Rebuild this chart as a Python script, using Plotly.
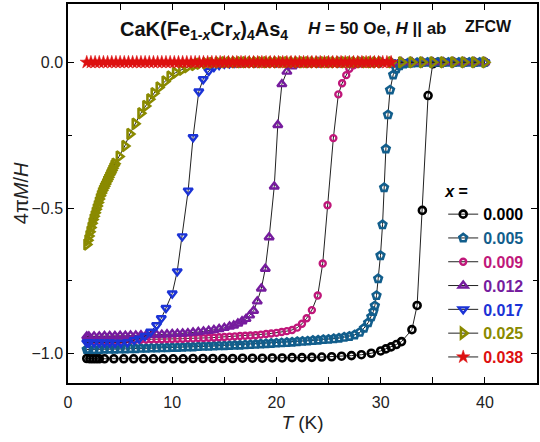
import plotly.graph_objects as go

# ---------------- data ----------------
x_labels = ["0.000", "0.005", "0.009", "0.012", "0.017", "0.025", "0.038"]

T_000 = [1.8, 2.1, 2.4, 2.7, 3.0, 3.5,
         4.4, 5.35, 6.3, 7.25, 8.2, 9.15, 10.1, 11.05,
         12.0, 12.95, 13.9, 14.85, 15.8,
         16.75, 17.7, 18.65, 19.6, 20.55, 21.5, 22.45,
         23.4, 24.35, 25.3, 26.25, 27.2, 28.15, 29.1,
         30.0, 30.5, 31.0, 31.5, 32.0,
         33.0, 33.5, 34.0, 34.55, 35.0, 35.5,
         36.0, 37.0, 38.0, 39.0, 40.0]
M_000 = [-1.016, -1.017, -1.017, -1.017, -1.017, -1.017,
         -1.017, -1.017, -1.017, -1.017, -1.017, -1.017, -1.017, -1.017,
         -1.016, -1.016, -1.016, -1.016, -1.016,
         -1.015, -1.015, -1.015, -1.014, -1.014, -1.013, -1.013,
         -1.012, -1.011, -1.010, -1.008, -1.006, -1.003, -0.998,
         -0.990, -0.983, -0.976, -0.968, -0.958,
         -0.917, -0.834, -0.508, -0.114, -0.005, 0.0,
         0.0, 0.0, 0.0, 0.0, 0.0]

T_005 = [1.8, 2.0, 2.5, 3.0, 3.5, 4.0, 4.5, 5.0, 5.5, 6.0,
         6.5, 7.0, 7.5, 8.0, 8.5, 9.0, 9.5, 10.0, 10.5, 11.0,
         11.5, 12.0, 12.5, 13.0, 13.5, 14.0, 14.5, 15.0, 15.5, 16.0,
         16.5, 17.0, 17.5, 18.0, 18.5, 19.0, 19.5, 20.0, 20.5, 21.0,
         21.5, 22.0, 22.5, 23.0, 23.5, 24.0, 24.5, 25.0, 25.5, 26.0,
         26.5, 27.0, 27.5, 28.0, 28.4, 28.8, 29.1, 29.3, 29.44, 29.6,
         29.76, 29.98, 30.18, 30.33, 30.5, 30.7, 30.9, 31.2, 31.5, 31.8,
         32.2, 32.6, 33.0, 33.5, 34.0, 34.5, 35.0, 35.5, 36.0, 36.5,
         37.0, 37.5, 38.0, 38.5, 39.0, 39.5, 40.0]
M_005 = [-0.985, -0.985, -0.985, -0.985, -0.984, -0.984, -0.984, -0.983, -0.983, -0.982,
         -0.982, -0.981, -0.981, -0.980, -0.980, -0.979, -0.979, -0.978, -0.978, -0.977,
         -0.976, -0.976, -0.975, -0.974, -0.974, -0.973, -0.972, -0.972, -0.971, -0.970,
         -0.970, -0.969, -0.968, -0.967, -0.966, -0.965, -0.964, -0.963, -0.962, -0.961,
         -0.960, -0.958, -0.957, -0.956, -0.954, -0.953, -0.951, -0.950, -0.948, -0.946,
         -0.943, -0.940, -0.935, -0.926, -0.912, -0.893, -0.873, -0.855, -0.835, -0.800,
         -0.742, -0.663, -0.557, -0.430, -0.297, -0.180, -0.095, -0.043, -0.022, -0.012,
         -0.006, -0.003, -0.002, -0.001, 0.0, 0.0, 0.0, 0.0, 0.0, 0.0,
         0.0, 0.0, 0.0, 0.0, 0.0, 0.0, 0.0]

T_009 = [1.8, 2.0, 2.5, 3.0, 3.5, 4.0, 4.5, 5.0, 5.5, 6.0,
         6.5, 7.0, 7.5, 8.0, 8.5, 9.0, 9.5, 10.0, 10.5, 11.0,
         11.5, 12.0, 12.5, 13.0, 13.5, 14.0, 14.5, 15.0, 15.5, 16.0,
         16.5, 17.0, 17.5, 18.0, 18.5, 19.0, 19.5, 20.0, 20.5, 21.0,
         21.5, 22.0, 22.45, 22.9, 23.4, 23.96, 24.44, 24.9, 25.46, 25.94,
         26.3, 26.7, 27.0, 27.4, 27.8, 28.2, 28.6, 29.0, 30.0, 31.0,
         32.0, 33.0, 34.0, 35.0, 36.0, 37.0, 38.0, 39.0, 40.0]
M_009 = [-0.953, -0.953, -0.953, -0.953, -0.953, -0.953, -0.952, -0.952, -0.952, -0.952,
         -0.951, -0.951, -0.951, -0.950, -0.950, -0.950, -0.949, -0.949, -0.948, -0.948,
         -0.947, -0.947, -0.946, -0.946, -0.945, -0.944, -0.943, -0.942, -0.941, -0.940,
         -0.939, -0.938, -0.937, -0.936, -0.934, -0.932, -0.930, -0.928, -0.925, -0.922,
         -0.918, -0.910, -0.897, -0.878, -0.850, -0.800, -0.690, -0.490, -0.260, -0.110,
         -0.072, -0.044, -0.022, -0.010, -0.004, -0.002, 0.0, 0.0, 0.0, 0.0,
         0.0, 0.0, 0.0, 0.0, 0.0, 0.0, 0.0, 0.0, 0.0]

T_012 = [1.8, 2.0, 2.5, 3.0, 3.5, 4.0, 4.5, 5.0, 5.5, 6.0,
         6.5, 7.0, 7.5, 8.0, 8.5, 9.0, 9.5, 10.0, 10.5, 11.0,
         11.5, 12.0, 12.5, 13.0, 13.5, 14.0, 14.5, 15.0, 15.5, 15.9,
         16.3, 16.7, 17.08, 17.43, 17.81, 18.16, 18.55, 18.93, 19.3, 19.79,
         20.13, 20.52, 21.0, 21.5, 22.0, 22.5, 23.0, 24.0, 25.0, 26.0,
         27.0, 28.0, 29.0, 30.0, 31.0, 32.0, 33.0, 34.0, 35.0, 36.0,
         37.0, 38.0, 39.0, 40.0]
M_012 = [-0.940, -0.940, -0.940, -0.940, -0.939, -0.939, -0.939, -0.938, -0.938, -0.937,
         -0.937, -0.936, -0.936, -0.935, -0.934, -0.934, -0.933, -0.932, -0.931, -0.930,
         -0.929, -0.927, -0.925, -0.923, -0.921, -0.918, -0.915, -0.911, -0.906, -0.903,
         -0.896, -0.888, -0.880, -0.868, -0.852, -0.820, -0.776, -0.708, -0.600, -0.426,
         -0.215, -0.075, -0.032, -0.014, -0.006, -0.003, -0.001, 0.0, 0.0, 0.0,
         0.0, 0.0, 0.0, 0.0, 0.0, 0.0, 0.0, 0.0, 0.0, 0.0,
         0.0, 0.0, 0.0, 0.0]

T_017 = [1.8, 2.0, 2.5, 3.0, 3.5, 4.0, 4.5, 5.07, 5.7, 6.34,
         6.82, 7.39, 7.93, 8.5, 8.95, 9.4, 10.0, 10.48, 10.96, 11.53,
         12.0, 12.55, 12.97, 13.5, 14.0, 14.5, 15.0, 15.5, 16.0, 16.5,
         17.0, 18.0, 19.0, 20.0, 21.0, 22.0, 23.0, 24.0, 25.0, 26.0,
         27.0, 28.0, 29.0, 30.0, 31.0, 32.0, 33.0, 34.0, 35.0, 36.0,
         37.0, 38.0, 39.0, 40.0]
M_017 = [-0.961, -0.961, -0.961, -0.961, -0.961, -0.961, -0.962, -0.962, -0.960, -0.953,
         -0.948, -0.939, -0.924, -0.902, -0.878, -0.843, -0.793, -0.717, -0.597, -0.440,
         -0.257, -0.100, -0.058, -0.030, -0.016, -0.009, -0.005, -0.003, -0.002, -0.001,
         0.0, 0.0, 0.0, 0.0, 0.0, 0.0, 0.0, 0.0, 0.0, 0.0,
         0.0, 0.0, 0.0, 0.0, 0.0, 0.0, 0.0, 0.0, 0.0, 0.0,
         0.0, 0.0, 0.0, 0.0]

T_025 = [1.8, 1.9, 2.0, 2.1, 2.2, 2.3, 2.4, 2.5, 2.6, 2.7,
         2.8, 2.9, 3.0, 3.1, 3.2, 3.3, 3.4, 3.5, 3.6, 3.7,
         3.8, 3.9, 4.0, 4.1, 4.2, 4.3, 4.4, 4.5, 4.9, 5.45,
         5.93, 6.43, 6.98, 7.45, 7.84, 8.25, 8.73, 9.3, 9.78, 10.3,
         10.9, 11.4, 12.1, 12.6, 13.2, 13.8, 14.4, 15.0, 15.5, 16.0,
         16.5, 17.0, 17.5, 18.0, 18.5, 19.0, 19.5, 20.0, 20.5, 21.0,
         21.5, 22.0, 22.5, 23.0, 23.5, 24.0, 24.5, 25.0, 25.5, 26.0,
         26.5, 27.0, 27.5, 28.0, 28.5, 29.0, 29.5, 30.0, 31.0, 32.0,
         33.0, 34.0, 35.0, 36.0, 37.0, 38.0, 39.0, 40.0]
M_025 = [-0.625, -0.610, -0.596, -0.581, -0.567, -0.552, -0.539, -0.528, -0.516, -0.504,
         -0.493, -0.481, -0.469, -0.458, -0.448, -0.440, -0.432, -0.425, -0.417, -0.409,
         -0.402, -0.394, -0.386, -0.379, -0.371, -0.363, -0.355, -0.348, -0.323, -0.287,
         -0.246, -0.211, -0.175, -0.150, -0.127, -0.106, -0.086, -0.066, -0.049, -0.036,
         -0.026, -0.017, -0.009, -0.005, -0.003, -0.002, -0.001, 0.0, 0.0, 0.0,
         0.0, 0.0, 0.0, 0.0, 0.0, 0.0, 0.0, 0.0, 0.0, 0.0,
         0.0, 0.0, 0.0, 0.0, 0.0, 0.0, 0.0, 0.0, 0.0, 0.0,
         0.0, 0.0, 0.0, 0.0, 0.0, 0.0, 0.0, 0.0, 0.0, 0.0,
         0.0, 0.0, 0.0, 0.0, 0.0, 0.0, 0.0, 0.0]

T_038 = [1.8, 2.2, 2.6, 3.0, 3.4, 3.8, 4.2, 4.6, 5.0, 5.4,
         5.8, 6.2, 6.6, 7.0, 7.4, 7.8, 8.2, 8.6, 9.0, 9.4,
         9.8, 10.2, 10.6, 11.0, 11.4, 11.8, 12.2, 12.6, 13.0, 13.4,
         13.8, 14.2, 14.6, 15.0, 15.4, 15.8, 16.2, 16.6, 17.0, 17.4,
         17.8, 18.2, 18.6, 19.0, 19.4, 19.8, 20.2, 20.6, 21.0, 21.4,
         21.8, 22.2, 22.6, 23.0, 23.4, 23.8, 24.2, 24.6, 25.0, 25.4,
         25.8, 26.2, 26.6, 27.0, 27.4, 27.8, 28.2, 28.6, 29.0, 29.4,
         29.8, 30.2, 30.6, 31.0]
M_038 = [0.0, 0.0, 0.0, 0.0, 0.0, 0.0, 0.0, 0.0, 0.0, 0.0,
         0.0, 0.0, 0.0, 0.0, 0.0, 0.0, 0.0, 0.0, 0.0, 0.0,
         0.0, 0.0, 0.0, 0.0, 0.0, 0.0, 0.0, 0.0, 0.0, 0.0,
         0.0, 0.0, 0.0, 0.0, 0.0, 0.0, 0.0, 0.0, 0.0, 0.0,
         0.0, 0.0, 0.0, 0.0, 0.0, 0.0, 0.0, 0.0, 0.0, 0.0,
         0.0, 0.0, 0.0, 0.0, 0.0, 0.0, 0.0, 0.0, 0.0, 0.0,
         0.0, 0.0, 0.0, 0.0, 0.0, 0.0, 0.0, 0.0, 0.0, 0.0,
         0.0, 0.0, 0.0, 0.0]

series_T = [T_000, T_005, T_009, T_012, T_017, T_025, T_038]
series_M = [M_000, M_005, M_009, M_012, M_017, M_025, M_038]
for t, m in zip(series_T, series_M):
    assert len(t) == len(m), (len(t), len(m))

# ---------------- styles ----------------
colors = ["#000000", "#125E8C", "#C0177A", "#761C9E", "#1B33D6", "#8A8A00", "#DD1010"]
symbols = ["circle-open", "pentagon-open", "circle-open", "triangle-up-open",
           "triangle-down-open", "triangle-right-open", "star"]
sizes = [7, 8, 6, 8, 8, 9, 10]
widths = [2.6, 2.6, 2.4, 2.4, 2.4, 2.6, 0.5]

FONT = "Liberation Sans, Arial, sans-serif"

fig = go.Figure()
for lab, t, m, c, s, sz, w in zip(x_labels, series_T, series_M, colors, symbols, sizes, widths):
    fig.add_trace(go.Scatter(
        x=t, y=m, mode="lines+markers",
        name=f"<span style='color:{c}'><b>{lab}</b></span>",
        line=dict(color="#222222", width=1),
        marker=dict(symbol=s, size=sz, color=c, line=dict(color=c, width=w)),
    ))

fig.update_layout(
    width=540, height=442,
    margin=dict(l=68, r=1, t=4, b=59),
    paper_bgcolor="white", plot_bgcolor="white",
    font=dict(family=FONT, size=16, color="#222222"),
    showlegend=True,
    legend=dict(
        x=0.80, y=0.545, xanchor="left", yanchor="top",
        bgcolor="rgba(0,0,0,0)",
        font=dict(family=FONT, size=16),
        title=dict(text="<b><i>x</i> =</b>", font=dict(family=FONT, size=16, color="#000")),
        tracegroupgap=0, itemwidth=30,
    ),
    xaxis=dict(
        range=[0, 45], dtick=10, tick0=0,
        ticks="inside", ticklen=6, tickwidth=1.3, tickcolor="#000",
        minor=dict(dtick=5, ticks="inside", ticklen=6, tickwidth=1.3, tickcolor="#000"),
        showline=True, linecolor="#000", linewidth=1.5, mirror="ticks",
        showgrid=False, zeroline=False, ticklabelstandoff=4,
        tickfont=dict(family=FONT, size=16, color="#222"),
        title=dict(text="<i>T</i> (K)", font=dict(family=FONT, size=19, color="#222"), standoff=6),
    ),
    yaxis=dict(
        range=[-1.1, 0.2], dtick=0.5, tick0=0, tickformat=".1f",
        ticks="inside", ticklen=6, tickwidth=1.3, tickcolor="#000",
        minor=dict(dtick=0.25, ticks="inside", ticklen=4, tickwidth=1.3, tickcolor="#000"),
        showline=True, linecolor="#000", linewidth=1.5, mirror="ticks",
        showgrid=False, zeroline=False,
        tickfont=dict(family=FONT, size=16, color="#222"),
    ),
    annotations=[
        dict(xref="paper", yref="paper", x=-0.101, y=0.5, xanchor="center", yanchor="middle",
             showarrow=False, textangle=-90,
             text="4π<i>M</i>/<i>H</i>",
             font=dict(family=FONT, size=20, color="#222")),
        dict(xref="paper", yref="paper", x=0.29, y=0.93, xanchor="center", yanchor="middle",
             showarrow=False,
             text="<b>CaK(Fe<sub>1-<i>x</i></sub>Cr<sub><i>x</i></sub>)<sub>4</sub>As<sub>4</sub></b>",
             font=dict(family=FONT, size=20, color="#111")),
        dict(xref="paper", yref="paper", x=0.66, y=0.935, xanchor="center", yanchor="middle",
             showarrow=False,
             text="<b><i>H</i> = 50 Oe, <i>H</i> || ab</b>",
             font=dict(family=FONT, size=17, color="#111")),
        dict(xref="paper", yref="paper", x=0.897, y=0.94, xanchor="center", yanchor="middle",
             showarrow=False, text="<b>ZFCW</b>",
             font=dict(family=FONT, size=16, color="#111")),
    ],
)

fig.write_html("out.html")
